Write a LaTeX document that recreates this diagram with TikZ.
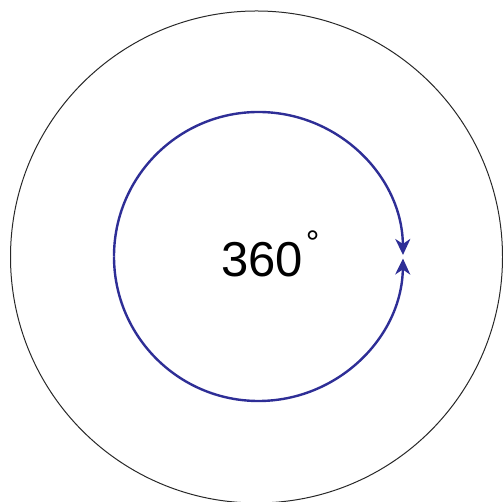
\documentclass[tikz,border=0pt]{standalone}
\usepackage{fontspec}
\setmainfont{Liberation Sans}
\usetikzlibrary{arrows.meta}
\definecolor{arcblue}{RGB}{46,46,150}
\definecolor{rimgray}{RGB}{40,40,40}
\tikzset{
  rim/.style={draw=rimgray,line width=1pt},
  turn/.style={draw=arcblue,line width=2.4pt,-{Stealth[length=16pt,width=15pt,inset=5pt]}},
  label/.style={font=\fontsize{49}{49}\selectfont,inner sep=0pt}
}
\begin{document}
\begin{tikzpicture}[x=1pt,y=1pt]
\useasboundingbox (0,0) rectangle (503,502);
\coordinate (oc) at (256.5,245);
\coordinate (ic) at (258.5,245.5);
\draw[rim] (oc) circle[radius=246];
\draw[turn] ([shift={(180:144.5)}]ic) arc[start angle=180,end angle=0.6,radius=144.5];
\draw[turn] ([shift={(180:144.5)}]ic) arc[start angle=180,end angle=359.2,radius=144.5];
\node[label,anchor=base west] (deg) at (221,225) {360\hspace{3pt}\raisebox{22pt}{\fontsize{34}{34}\selectfont °}};
\end{tikzpicture}
\end{document}
